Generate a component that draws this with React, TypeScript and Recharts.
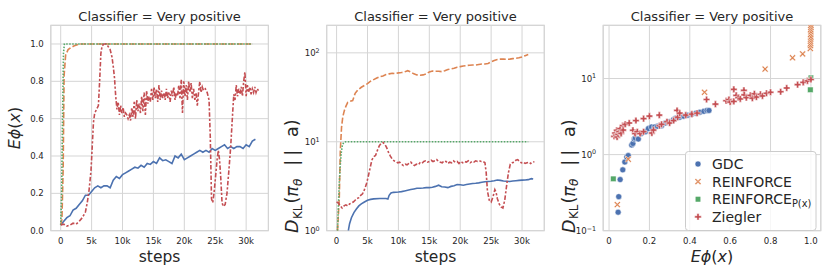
import React from 'react';
import { LineChart, Line, XAxis, YAxis, CartesianGrid, ScatterChart, Scatter, ReferenceArea } from 'recharts';

// ---------------- data ----------------
const methods = ['GDC', 'REINFORCE', 'REINFORCE_P(x)', 'Ziegler'];
const title = 'Classifier = Very positive';

// Panel 1: E phi(x) vs steps   [step, value]
const gdcEphi: [number, number][] = [
  [0, .03], [500, .05], [1000, .07], [1500, .08], [2000, .11], [2500, .12], [3000, .14], [3500, .16], [4000, .19], [4500, .19],
  [5000, .21], [5500, .23], [6000, .24], [6500, .23], [7000, .24], [7500, .24], [8000, .23], [8500, .27], [9000, .29], [9500, .28],
  [10000, .30], [10500, .31], [11000, .32], [11500, .33], [12000, .34], [12500, .335], [13000, .35], [13500, .34], [14000, .36], [14500, .355],
  [15000, .37], [15500, .36], [16000, .39], [16500, .375], [17000, .38], [17500, .37], [18000, .36], [18500, .40], [19000, .39], [19500, .41],
  [20000, .38], [20500, .39], [21000, .40], [21500, .41], [22000, .42], [22500, .43], [23000, .42], [23500, .43], [24000, .42], [24500, .44],
  [25000, .43], [25500, .44], [26000, .45], [26500, .46], [27000, .44], [27500, .45], [28000, .44], [28500, .45], [29000, .45], [29500, .44],
  [30000, .46], [30500, .45], [31000, .48], [31500, .49],
];
const reinforceEphi: [number, number][] = [
  [0, .03], [200, .06], [400, .33], [550, .83], [800, .94], [1200, .97], [1600, .98], [2200, .99], [3000, 1.0], [31000, 1.0],
];
const reinforcePxEphi: [number, number][] = [
  [0, .03], [150, .2], [300, .6], [450, .95], [600, 1.0], [31000, 1.0],
];
const zieglerEphi: [number, number][] = [
  [0, .03], [500, .035], [1000, .025], [1500, .03], [2000, .04], [2500, .035], [3000, .05], [3500, .07], [4000, .10], [4300, .15],
  [4600, .22], [4900, .32], [5100, .45], [5300, .58], [5500, .63], [5800, .65], [6100, .67], [6300, .80], [6500, .95], [6700, .99],
  [7000, 1.0], [7300, 1.0], [7600, .99], [8000, .97], [8300, .93], [8500, .88], [8700, .82], [8900, .72], [9100, .65], [9300, .69],
  [9500, .62], [9700, .67], [9900, .63], [10100, .66], [10300, .61], [10500, .63], [10700, .62], [10900, .60], [11100, .62], [11300, .59],
  [11500, .66], [11700, .61], [11900, .69], [12100, .60], [12300, .70], [12500, .64], [12700, .68], [12900, .63], [13100, .72], [13300, .64],
  [13500, .74], [13700, .62], [13900, .75], [14100, .68], [14300, .72], [14500, .69], [14700, .76], [14900, .70], [15100, .77], [15300, .71],
  [15500, .76], [15700, .69], [15900, .78], [16100, .70], [16300, .75], [16500, .71], [16700, .74], [16900, .70], [17100, .76], [17300, .71],
  [17500, .74], [17700, .69], [17900, .75], [18100, .72], [18300, .77], [18500, .70], [18700, .74], [18900, .72], [19100, .78], [19300, .71],
  [19500, .81], [19700, .63], [19900, .80], [20100, .72], [20300, .78], [20500, .70], [20700, .80], [20900, .74], [21100, .79], [21300, .71],
  [21500, .76], [21700, .70], [21900, .74], [22100, .67], [22300, .74], [22500, .80], [22700, .74], [22900, .77], [23100, .75], [23400, .76],
  [23700, .74], [24000, .70], [24200, .50], [24400, .17], [24600, .15], [24800, .20], [25000, .27], [25300, .38], [25500, .43], [25700, .38],
  [25900, .28], [26100, .15], [26300, .13], [26600, .14], [26900, .20], [27200, .32], [27500, .45], [27800, .62], [28000, .73], [28200, .70],
  [28400, .78], [28600, .72], [28800, .76], [29000, .73], [29200, .77], [29400, .72], [29600, .80], [29800, .85], [30000, .72], [30200, .78],
  [30400, .74], [30600, .77], [30800, .73], [31000, .76], [31200, .74], [31400, .77], [31600, .74], [31800, .76], [32000, .75],
];

// Panel 2: KL vs steps   [step, value]
const gdcKL: [number, number][] = [
  [1900, 1.0], [2100, 1.2], [2400, 1.4], [2800, 1.6], [3200, 1.75], [3600, 1.9], [4000, 2.0], [4500, 2.1], [5000, 2.2], [5500, 2.25],
  [6000, 2.28], [7000, 2.3], [8000, 2.3], [8300, 2.27], [8500, 2.5], [8800, 2.65], [9200, 2.7], [10000, 2.72], [10500, 2.75], [11000, 2.8],
  [11500, 2.85], [12000, 2.9], [12500, 2.95], [13000, 3.0], [13500, 3.0], [14000, 3.02], [14500, 3.05], [15000, 3.05], [15500, 3.08], [16000, 3.15],
  [16500, 3.25], [17000, 3.12], [17500, 3.1], [18000, 3.05], [18500, 3.15], [19000, 3.2], [19500, 3.3], [20000, 3.28], [20500, 3.25], [21000, 3.3],
  [21500, 3.35], [22000, 3.4], [22500, 3.42], [23000, 3.45], [23500, 3.5], [24000, 3.55], [24500, 3.58], [25000, 3.6], [25500, 3.65], [26000, 3.72],
  [26500, 3.68], [27000, 3.62], [27500, 3.6], [28000, 3.58], [28500, 3.62], [29000, 3.65], [29500, 3.68], [30000, 3.7], [30500, 3.72], [31000, 3.75],
  [31500, 3.85], [31800, 3.82],
];
const reinforceKL: [number, number][] = [
  [150, 1.0], [440, 2.4], [600, 7.9], [800, 14.5], [1000, 19], [1250, 22.4], [1500, 25], [1800, 27.7], [2200, 28.5], [2600, 29],
  [3000, 35], [3400, 38], [4000, 41], [4500, 43], [5000, 45], [5500, 48], [6000, 50], [6500, 52], [7000, 54], [7500, 55],
  [8000, 57], [8500, 58], [9000, 59], [9500, 58.5], [10000, 59.5], [10500, 60], [11000, 61], [11500, 63], [12000, 61], [12500, 58],
  [13000, 56.5], [13500, 56], [14000, 56.5], [14500, 58], [15000, 61], [15500, 62.5], [16000, 62], [16500, 62], [17000, 61.5], [17500, 63],
  [18000, 65], [18500, 66], [19000, 67], [19500, 69], [20000, 70], [20500, 71], [21000, 72], [21500, 72.5], [22000, 73], [22500, 73],
  [23000, 74], [23500, 75], [24000, 75], [24500, 76], [25000, 79], [25500, 82], [26000, 84], [26500, 85], [27000, 85], [27500, 84.5],
  [28000, 85], [28500, 86], [29000, 87], [29500, 88], [30000, 90], [30500, 93], [31000, 96],
];
const reinforcePxKL: [number, number][] = [
  [150, 1.0], [300, 2.0], [450, 3.6], [600, 5.5], [750, 7.5], [950, 9.3], [1200, 9.9], [1500, 10], [31000, 10],
];
const zieglerKL: [number, number][] = [
  [0, 2.1], [300, 2.05], [600, 1.9], [900, 1.8], [1200, 1.9], [1500, 1.95], [1800, 1.9], [2100, 2.0], [2400, 2.05], [2700, 2.1],
  [3000, 2.2], [3300, 2.3], [3600, 2.35], [3900, 2.5], [4200, 2.6], [4500, 2.9], [4800, 3.3], [5100, 4.0], [5400, 5.0], [5700, 6.2],
  [6000, 6.8], [6300, 7.0], [6600, 8.0], [6900, 9.0], [7200, 9.6], [7500, 9.8], [7800, 9.4], [8100, 8.6], [8400, 7.6], [8700, 6.9],
  [9000, 6.4], [9300, 6.1], [9600, 6.0], [9900, 5.8], [10200, 5.9], [10500, 5.6], [10800, 5.4], [11100, 5.6], [11400, 5.5], [11700, 5.7],
  [12000, 5.9], [12300, 5.6], [12600, 5.4], [12900, 5.6], [13200, 5.5], [13500, 5.8], [13800, 5.7], [14100, 6.0], [14400, 6.1], [14700, 5.9],
  [15000, 6.0], [15300, 6.2], [15600, 6.0], [15900, 6.1], [16200, 6.3], [16500, 6.0], [16800, 5.9], [17100, 5.8], [17400, 6.1], [17700, 6.0],
  [18000, 5.7], [18300, 5.9], [18600, 5.8], [18900, 6.1], [19200, 5.9], [19500, 6.0], [19800, 5.7], [20100, 6.0], [20400, 5.8], [20700, 6.0],
  [21000, 5.9], [21300, 6.1], [21600, 5.8], [21900, 6.0], [22200, 5.9], [22500, 6.1], [22800, 6.0], [23100, 6.1], [23400, 6.0], [23700, 6.0],
  [24000, 5.8], [24200, 4.5], [24400, 2.8], [24700, 2.2], [25000, 2.1], [25300, 2.4], [25600, 2.9], [25800, 2.7], [26000, 2.3], [26300, 2.0],
  [26600, 1.85], [26900, 1.8], [27200, 2.2], [27500, 3.2], [27800, 4.5], [28100, 5.6], [28400, 5.8], [28700, 5.9], [29000, 6.2], [29300, 6.3],
  [29600, 6.0], [29900, 5.8], [30200, 5.9], [30500, 5.7], [30800, 5.8], [31100, 5.9], [31400, 5.7], [31700, 5.9], [32000, 5.95],
];

// Panel 3: KL vs E phi(x)   [ephi, kl]
const gdcScatter: [number, number][] = [
  [0.045, 0.175], [0.048, 0.28], [0.055, 0.47], [0.068, 0.63], [0.078, 0.80], [0.088, 0.93], [0.095, 0.97], [0.112, 1.34], [0.118, 1.4], [0.125, 1.6],
  [0.13, 1.65], [0.145, 1.6], [0.16, 1.9], [0.18, 2.0], [0.195, 2.2], [0.21, 2.3], [0.225, 2.3], [0.24, 2.35], [0.26, 2.4], [0.28, 2.6],
  [0.30, 2.7], [0.32, 2.9], [0.33, 3.0], [0.35, 3.1], [0.37, 3.2], [0.39, 3.3], [0.41, 3.4], [0.43, 3.5], [0.45, 3.6], [0.47, 3.7],
  [0.485, 3.8], [0.495, 3.8],
];
const reinforceScatter: [number, number][] = [
  [0.041, 0.22], [0.095, 0.87], [0.473, 6.6], [0.773, 13.3], [0.909, 18.7], [0.959, 21], [0.997, 24.8], [0.998, 27], [0.999, 29], [0.998, 31],
  [0.999, 33], [1.0, 35], [0.999, 38], [1.0, 41], [0.999, 44], [1.0, 47], [1.0, 50],
];
const reinforcePxScatter: [number, number][] = [
  [0.021, 0.48], [0.048, 1.85], [0.997, 7.1], [1.0, 10.2],
];
const zieglerScatter: [number, number][] = [
  [0.025, 1.74], [0.03, 1.92], [0.035, 1.8], [0.038, 2.09], [0.04, 1.7], [0.045, 1.85], [0.05, 2.0], [0.055, 2.2], [0.06, 1.9], [0.068, 2.4],
  [0.07, 2.1], [0.08, 2.5], [0.1, 2.6], [0.118, 2.09], [0.129, 1.89], [0.133, 2.8], [0.14, 2.0], [0.154, 1.89], [0.171, 2.0], [0.171, 2.97],
  [0.2, 3.2], [0.212, 1.92], [0.22, 2.1], [0.249, 3.3], [0.25, 2.4], [0.26, 2.5], [0.287, 2.7], [0.3, 2.6], [0.32, 2.8], [0.337, 3.8],
  [0.34, 3.1], [0.35, 3.5], [0.38, 3.3], [0.41, 3.4], [0.436, 3.5], [0.483, 5.3], [0.527, 4.6], [0.58, 5.1], [0.594, 5.3], [0.6, 4.9],
  [0.618, 5.0], [0.618, 7.2], [0.63, 6.0], [0.64, 5.6], [0.65, 5.4], [0.668, 7.0], [0.67, 6.1], [0.68, 5.6], [0.7, 6.0], [0.71, 5.5],
  [0.72, 6.3], [0.73, 5.7], [0.75, 6.2], [0.76, 5.9], [0.78, 6.4], [0.8, 6.6], [0.85, 6.7], [0.88, 7.5], [0.934, 8.3], [0.962, 8.9],
  [0.983, 9.3], [1.0, 9.7],
];

// ticks
const stepTicks = [0, 5000, 10000, 15000, 20000, 25000, 30000];
const ephiTicks = [0, 0.2, 0.4, 0.6, 0.8, 1.0];
const klTicks = [1, 10, 100];
const klTicks3 = [0.1, 1, 10];
const ephiXTicks = [0, 0.2, 0.4, 0.6, 0.8, 1.0];

// ---------------- styling ----------------
const W = 830, H = 277;
const FONT = '"DejaVu Sans", Verdana, sans-serif';
const TXT = '#262626';
const GRID = '#d5d5d5';
const C = { gdc: '#4c72b0', rf: '#dd8452', rfpx: '#55a868', zg: '#c44e52' };
const TOP = 25.3, BOTTOM = 230.7, PW = 217.6;
const LEFTS = [50.8, 326.7, 603.2];
const YW = 40, XH = 25;
const TICK_FS = 8.6;

const toPts = (arr: [number, number][]) => arr.map(([s, v]) => ({ s, v }));
const toXY = (arr: [number, number][]) => arr.map(([x, y]) => ({ x, y }));

const margin = (left: number) => ({ top: TOP, left: left - YW, right: W - left - PW, bottom: H - BOTTOM - XH });
const abs: React.CSSProperties = { position: 'absolute', left: 0, top: 0 };
const tickStyle = { fontSize: TICK_FS, fill: TXT, fontFamily: FONT };
const stepFmt = (v: number) => (v === 0 ? '0' : `${v / 1000}k`);

const LogTick = (props: any) => {
  const { x, y, payload } = props;
  const e = Math.round(Math.log10(payload.value));
  return (
    <text x={x} y={y} textAnchor="end" fontSize={TICK_FS} fill={TXT} fontFamily={FONT} dy="0.35em">
      10<tspan dy="-0.5em" fontSize={6.4}>{e < 0 ? `\u2212${-e}` : e}</tspan>
    </text>
  );
};

// markers
const Dot = ({ cx, cy, fill }: any) => <circle cx={cx} cy={cy} r={3} fill={fill} stroke="#fff" strokeWidth={0.5} />;
const XMark = ({ cx, cy, fill }: any) => {
  const a = 3.2, b = 1.1;
  const pts = [[-a, -a + b], [-a + b, -a], [0, -b], [a - b, -a], [a, -a + b], [b, 0], [a, a - b], [a - b, a], [0, b], [-a + b, a], [-a, a - b], [-b, 0]]
    .map(([px, py]) => `${cx + px},${cy + py}`).join(' ');
  return <polygon points={pts} fill={fill} stroke="#fff" strokeWidth={0.5} />;
};
const Square = ({ cx, cy, fill }: any) => <rect x={cx - 2.8} y={cy - 2.8} width={5.6} height={5.6} fill={fill} stroke="#fff" strokeWidth={0.5} />;
const Plus = ({ cx, cy, fill }: any) => {
  const a = 3.3, b = 1.1;
  const pts = [[-b, -a], [b, -a], [b, -b], [a, -b], [a, b], [b, b], [b, a], [-b, a], [-b, b], [-a, b], [-a, -b], [-b, -b]]
    .map(([px, py]) => `${cx + px},${cy + py}`).join(' ');
  return <polygon points={pts} fill={fill} stroke="#fff" strokeWidth={0.5} />;
};

const STEP_DOMAIN: [number, number] = [-1600, 33600];

function Panel1() {
  return (
    <LineChart width={W} height={H} margin={margin(LEFTS[0])} style={abs}>
      <CartesianGrid stroke={GRID} strokeWidth={1} />
      <XAxis type="number" dataKey="s" domain={STEP_DOMAIN} ticks={stepTicks} tickFormatter={stepFmt} allowDataOverflow
        height={XH} axisLine={false} tickLine={false} tickSize={0} tickMargin={7} tick={tickStyle} />
      <YAxis type="number" dataKey="v" domain={[0, 1.1]} ticks={ephiTicks} tickFormatter={(v: number) => v.toFixed(1)} allowDataOverflow
        width={YW} axisLine={false} tickLine={false} tickSize={0} tickMargin={7} tick={tickStyle} />
      <ReferenceArea x1={STEP_DOMAIN[0]} x2={STEP_DOMAIN[1]} y1={0} y2={1.1} fill="none" stroke={GRID} strokeWidth={1.2} ifOverflow="visible" />
      <Line data={toPts(gdcEphi)} dataKey="v" name={methods[0]} stroke={C.gdc} strokeWidth={1.6} dot={false} isAnimationActive={false} />
      <Line data={toPts(reinforceEphi)} dataKey="v" name={methods[1]} stroke={C.rf} strokeWidth={1.6} strokeDasharray="6 2.25" dot={false} isAnimationActive={false} />
      <Line data={toPts(reinforcePxEphi)} dataKey="v" name={methods[2]} stroke={C.rfpx} strokeWidth={1.6} strokeDasharray="1.5 1.5" dot={false} isAnimationActive={false} />
      <Line data={toPts(zieglerEphi)} dataKey="v" name={methods[3]} stroke={C.zg} strokeWidth={1.6} strokeDasharray="4.5 1.9 2.25 1.9" dot={false} isAnimationActive={false} />
    </LineChart>
  );
}

function Panel2() {
  return (
    <LineChart width={W} height={H} margin={margin(LEFTS[1])} style={abs}>
      <CartesianGrid stroke={GRID} strokeWidth={1} />
      <XAxis type="number" dataKey="s" domain={STEP_DOMAIN} ticks={stepTicks} tickFormatter={stepFmt} allowDataOverflow
        height={XH} axisLine={false} tickLine={false} tickSize={0} tickMargin={7} tick={tickStyle} />
      <YAxis type="number" dataKey="v" scale="log" domain={[1, 204]} ticks={klTicks} allowDataOverflow
        width={YW} axisLine={false} tickLine={false} tickSize={0} tickMargin={7} tick={<LogTick />} />
      <ReferenceArea x1={STEP_DOMAIN[0]} x2={STEP_DOMAIN[1]} y1={1} y2={204} fill="none" stroke={GRID} strokeWidth={1.2} ifOverflow="visible" />
      <Line data={toPts(gdcKL)} dataKey="v" name={methods[0]} stroke={C.gdc} strokeWidth={1.6} dot={false} isAnimationActive={false} />
      <Line data={toPts(reinforceKL)} dataKey="v" name={methods[1]} stroke={C.rf} strokeWidth={1.6} strokeDasharray="6 2.25" dot={false} isAnimationActive={false} />
      <Line data={toPts(reinforcePxKL)} dataKey="v" name={methods[2]} stroke={C.rfpx} strokeWidth={1.6} strokeDasharray="1.5 1.5" dot={false} isAnimationActive={false} />
      <Line data={toPts(zieglerKL)} dataKey="v" name={methods[3]} stroke={C.zg} strokeWidth={1.6} strokeDasharray="4.5 1.9 2.25 1.9" dot={false} isAnimationActive={false} />
    </LineChart>
  );
}

function Panel3() {
  const xd: [number, number] = [-0.029, 1.049];
  return (
    <ScatterChart width={W} height={H} margin={margin(LEFTS[2])} style={abs}>
      <CartesianGrid stroke={GRID} strokeWidth={1} />
      <XAxis type="number" dataKey="x" domain={xd} ticks={ephiXTicks} tickFormatter={(v: number) => (v === 0 ? '0' : v.toFixed(1))} allowDataOverflow
        height={XH} axisLine={false} tickLine={false} tickSize={0} tickMargin={7} tick={tickStyle} />
      <YAxis type="number" dataKey="y" scale="log" domain={[0.1, 50]} ticks={klTicks3} allowDataOverflow
        width={YW} axisLine={false} tickLine={false} tickSize={0} tickMargin={7} tick={<LogTick />} />
      <ReferenceArea x1={xd[0]} x2={xd[1]} y1={0.1} y2={50} fill="none" stroke={GRID} strokeWidth={1.2} ifOverflow="visible" />
      <Scatter data={toXY(gdcScatter)} name={methods[0]} fill={C.gdc} shape={<Dot />} isAnimationActive={false} />
      <Scatter data={toXY(reinforceScatter)} name={methods[1]} fill={C.rf} shape={<XMark />} isAnimationActive={false} />
      <Scatter data={toXY(reinforcePxScatter)} name={methods[2]} fill={C.rfpx} shape={<Square />} isAnimationActive={false} />
      <Scatter data={toXY(zieglerScatter)} name={methods[3]} fill={C.zg} shape={<Plus />} isAnimationActive={false} />
    </ScatterChart>
  );
}

// y label D_KL(pi_theta || a), starting at the bottom (y) and reading upward
const KLLabel = ({ x, y }: { x: number; y: number }) => (
  <text transform={`rotate(-90 ${x} ${y})`} x={x} y={y} textAnchor="start" fontSize={17.5} fill={TXT}>
    <tspan fontStyle="italic">D</tspan>
    <tspan fontSize={12} dy={3.5} dx={0.5}>KL</tspan>
    <tspan dy={-3.5} dx={1}>(</tspan>
    <tspan fontStyle="italic">π</tspan>
    <tspan fontSize={12} fontStyle="italic" dy={3.5}>θ</tspan>
    <tspan dy={-3.5} dx={13}>|</tspan>
    <tspan dx={4}>|</tspan>
    <tspan dx={13}>a</tspan>
    <tspan>)</tspan>
  </text>
);

const EphiText = ({ x, y, rotate }: { x: number; y: number; rotate?: boolean }) => (
  <text transform={rotate ? `rotate(-90 ${x} ${y})` : undefined} x={x} y={y} textAnchor="middle" fontSize={16} fill={TXT}>
    <tspan fontStyle="italic">Eϕ</tspan>(<tspan fontStyle="italic">x</tspan>)
  </text>
);

function Overlay() {
  const centers = LEFTS.map((l) => l + PW / 2);
  const legendRows = [
    { label: methods[0], color: C.gdc, Shape: Dot },
    { label: 'REINFORCE', color: C.rf, Shape: XMark },
    { label: 'REINFORCE', sub: 'P(x)', color: C.rfpx, Shape: Square },
    { label: methods[3], color: C.zg, Shape: Plus },
  ];
  return (
    <svg width={W} height={H} style={{ ...abs, pointerEvents: 'none' }} fontFamily={FONT}>
      {centers.map((cx, i) => (
        <text key={i} x={cx} y={20.5} textAnchor="middle" fontSize={13} fill={TXT}>{title}</text>
      ))}
      <text x={centers[0]} y={262} textAnchor="middle" fontSize={15.5} fill={TXT}>steps</text>
      <text x={centers[1]} y={262} textAnchor="middle" fontSize={15.5} fill={TXT}>steps</text>
      <EphiText x={centers[2]} y={262} />
      <EphiText x={20} y={128} rotate />
      <KLLabel x={298} y={233} />
      <KLLabel x={574.5} y={233} />
      <g>
        <rect x={685.5} y={151.5} width={130.5} height={79} rx={3} fill="#fff" fillOpacity={0.8} stroke="#cccccc" strokeWidth={1} />
        {legendRows.map((r, i) => {
          const cy = 164 + i * 17.6;
          return (
            <g key={i}>
              <r.Shape cx={698} cy={cy} fill={r.color} />
              <text x={712} y={cy + 5} fontSize={14} fill={TXT}>
                {r.label}
                {r.sub ? <tspan fontSize={9.8} dy={3}>{r.sub}</tspan> : null}
              </text>
            </g>
          );
        })}
      </g>
    </svg>
  );
}

export default function App() {
  return (
    <div style={{ position: 'absolute', left: 0, top: 0, width: W, height: H, background: '#fff', fontFamily: FONT }}>
      <Panel1 />
      <Panel2 />
      <Panel3 />
      <Overlay />
    </div>
  );
}
